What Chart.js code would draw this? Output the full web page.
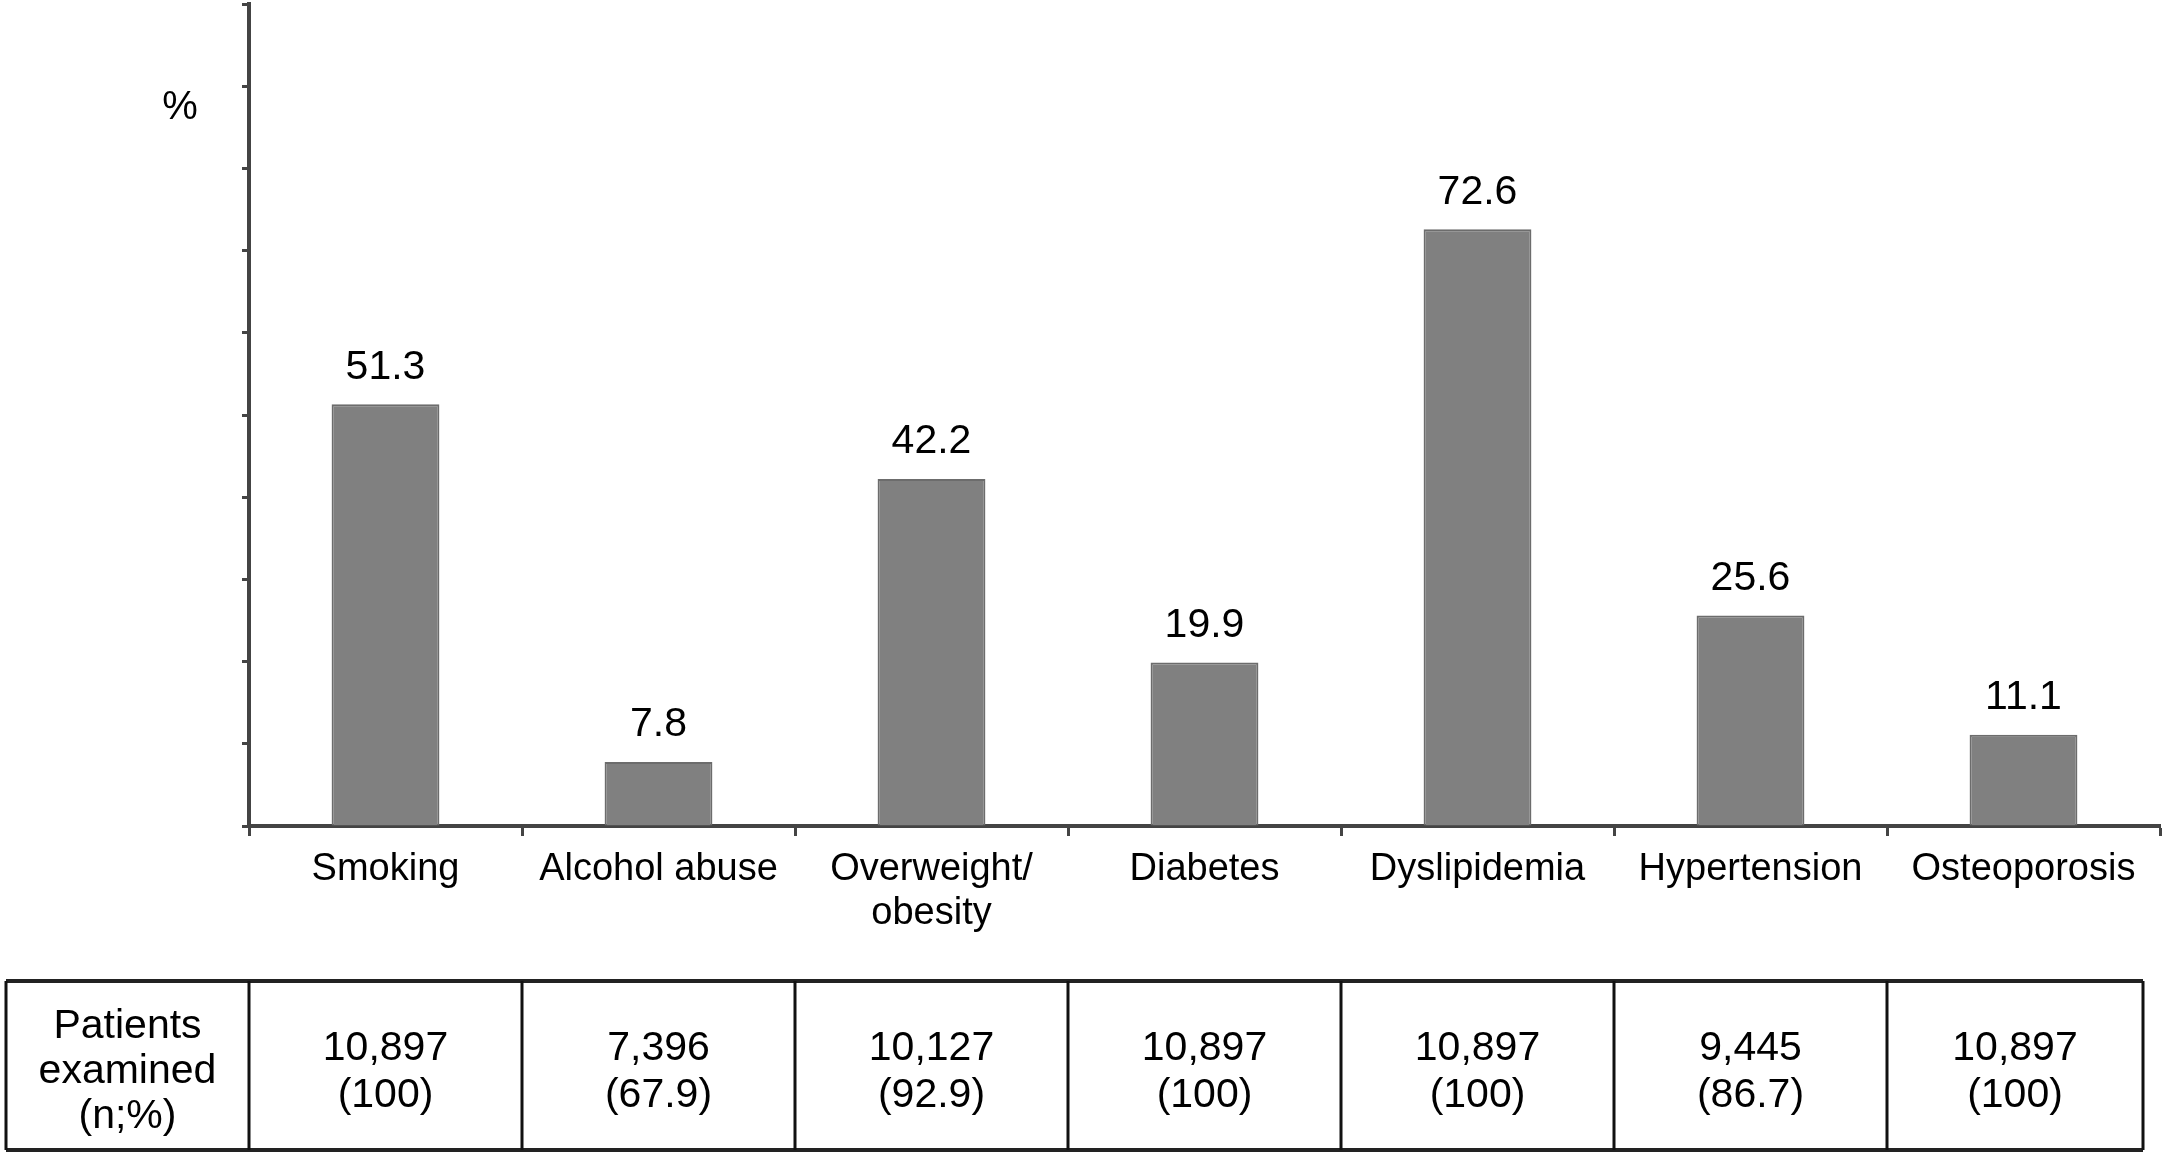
<!DOCTYPE html>
<html>
<head>
<meta charset="utf-8">
<script src="https://cdn.jsdelivr.net/npm/chart.js@4.4.1/dist/chart.umd.min.js"></script>
<style>
  html, body { margin: 0; padding: 0; background: #fff; }
  #wrap { width: 2167px; height: 1158px; position: relative; }
</style>
</head>
<body>
<div id="wrap"><canvas id="myChart"></canvas></div>
<script>
const categories = ['Smoking', 'Alcohol abuse', ['Overweight/', 'obesity'], 'Diabetes', 'Dyslipidemia', 'Hypertension', 'Osteoporosis']
const prevalence = [51.3, 7.8, 42.2, 19.9, 72.6, 25.6, 11.1]
const patientsExamined = ['10,897', '7,396', '10,127', '10,897', '10,897', '9,445', '10,897']
const patientsPercent = ['(100)', '(67.9)', '(92.9)', '(100)', '(100)', '(86.7)', '(100)']
const rowLabel = ['Patients', 'examined', '(n;%)']

const FONT = '"Liberation Sans", Arial, sans-serif'

// value labels above the bars + the "%" unit
const valueLabels = {
    id: 'valueLabels',
    afterDatasetsDraw(chart) {
        const ctx = chart.ctx
        const meta = chart.getDatasetMeta(0)
        ctx.save()
        ctx.fillStyle = '#000'
        ctx.font = '41px ' + FONT
        ctx.textAlign = 'center'
        ctx.textBaseline = 'middle'
        meta.data.forEach((bar, i) => {
            ctx.fillText(prevalence[i].toFixed(1), bar.x, bar.y - 37)
        })
        ctx.font = '40px ' + FONT
        ctx.fillText('%', 180, 108)
        ctx.restore()
    }
}

// the "patients examined" table under the axis
const patientsTable = {
    id: 'patientsTable',
    afterDraw(chart) {
        const ctx = chart.ctx
        const x = chart.scales.x
        const slot = x.width / categories.length
        const top = 981, bottom = 1150, left = 6
        const right = x.right - 17
        const bounds = [left]
        for (let i = 0; i < categories.length; i++) bounds.push(x.left + i * slot)
        bounds.push(right)
        ctx.save()
        ctx.strokeStyle = '#222'
        ctx.lineWidth = 4
        ctx.beginPath()
        ctx.moveTo(left, top); ctx.lineTo(right, top)
        ctx.moveTo(left, bottom); ctx.lineTo(right, bottom)
        ctx.stroke()
        ctx.lineWidth = 3
        ctx.strokeStyle = '#111'
        ctx.beginPath()
        bounds.forEach((bx) => {
            ctx.moveTo(bx, top); ctx.lineTo(bx, bottom)
        })
        ctx.stroke()

        ctx.fillStyle = '#000'
        ctx.font = '41px ' + FONT
        ctx.textAlign = 'center'
        ctx.textBaseline = 'middle'
        const mid = 1072
        rowLabel.forEach((t, k) => {
            ctx.fillText(t, (bounds[0] + bounds[1]) / 2, mid + (k - 1) * 45)
        })
        for (let i = 0; i < categories.length; i++) {
            const cx = (bounds[i + 1] + bounds[i + 2]) / 2
            ctx.fillText(patientsExamined[i], cx, mid - 23)
            ctx.fillText(patientsPercent[i], cx, mid + 24)
        }
        ctx.restore()
    }
}

const ctx = document.getElementById('myChart').getContext('2d')
const myChart = new Chart(ctx, {
    type: 'bar',
    data: {
        labels: categories,
        datasets: [{
            data: prevalence,
            backgroundColor: '#808080',
            borderColor: '#6c6c6c',
            borderWidth: 2,
            barPercentage: 0.395,
            categoryPercentage: 1
        }]
    },
    options: {
        responsive: true,
        maintainAspectRatio: false,
        animation: false,
        devicePixelRatio: 1,
        layout: { padding: { left: 0, top: 4, right: 7, bottom: 0 } },
        plugins: {
            legend: { display: false },
            tooltip: { enabled: false }
        },
        scales: {
            x: {
                offset: true,
                afterFit: (scale) => { scale.height = 332 },
                border: { display: true, color: '#444', width: 4 },
                grid: {
                    offset: true,
                    drawOnChartArea: false,
                    drawTicks: true,
                    tickLength: 10,
                    tickWidth: 3,
                    tickColor: '#444'
                },
                ticks: {
                    color: '#000',
                    padding: 11,
                    maxRotation: 0,
                    autoSkip: false,
                    font: { family: FONT, size: 38, lineHeight: 1.16 }
                }
            },
            y: {
                min: 0,
                max: 100,
                afterFit: (scale) => { scale.width = 249 },
                border: { display: true, color: '#444', width: 4 },
                grid: {
                    drawOnChartArea: false,
                    drawTicks: true,
                    tickLength: 7,
                    tickWidth: 3,
                    tickColor: '#444'
                },
                ticks: { display: false, stepSize: 10 }
            }
        }
    },
    plugins: [valueLabels, patientsTable]
})
</script>
</body>
</html>
